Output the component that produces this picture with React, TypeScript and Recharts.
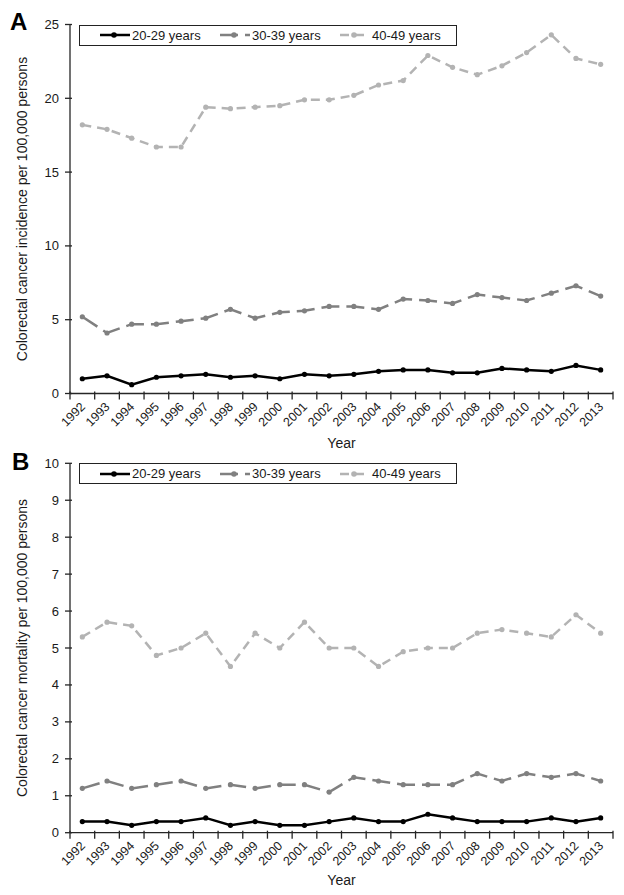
import React from "react"
import { LineChart, Line, XAxis, YAxis, Legend, Label } from "recharts"

// 연도 (x축 카테고리)
const years = [
  1992, 1993, 1994, 1995, 1996, 1997, 1998, 1999, 2000, 2001, 2002,
  2003, 2004, 2005, 2006, 2007, 2008, 2009, 2010, 2011, 2012, 2013,
]

// A: incidence per 100,000
const incidence20to29 = [1.0, 1.2, 0.6, 1.1, 1.2, 1.3, 1.1, 1.2, 1.0, 1.3, 1.2, 1.3, 1.5, 1.6, 1.6, 1.4, 1.4, 1.7, 1.6, 1.5, 1.9, 1.6]
const incidence30to39 = [5.2, 4.1, 4.7, 4.7, 4.9, 5.1, 5.7, 5.1, 5.5, 5.6, 5.9, 5.9, 5.7, 6.4, 6.3, 6.1, 6.7, 6.5, 6.3, 6.8, 7.3, 6.6]
const incidence40to49 = [18.2, 17.9, 17.3, 16.7, 16.7, 19.4, 19.3, 19.4, 19.5, 19.9, 19.9, 20.2, 20.9, 21.2, 22.9, 22.1, 21.6, 22.2, 23.1, 24.3, 22.7, 22.3]

// B: mortality per 100,000
const mortality20to29 = [0.3, 0.3, 0.2, 0.3, 0.3, 0.4, 0.2, 0.3, 0.2, 0.2, 0.3, 0.4, 0.3, 0.3, 0.5, 0.4, 0.3, 0.3, 0.3, 0.4, 0.3, 0.4]
const mortality30to39 = [1.2, 1.4, 1.2, 1.3, 1.4, 1.2, 1.3, 1.2, 1.3, 1.3, 1.1, 1.5, 1.4, 1.3, 1.3, 1.3, 1.6, 1.4, 1.6, 1.5, 1.6, 1.4]
const mortality40to49 = [5.3, 5.7, 5.6, 4.8, 5.0, 5.4, 4.5, 5.4, 5.0, 5.7, 5.0, 5.0, 4.5, 4.9, 5.0, 5.0, 5.4, 5.5, 5.4, 5.3, 5.9, 5.4]

// y축 눈금
const incidenceTicks = [0, 5, 10, 15, 20, 25]
const mortalityTicks = [0, 1, 2, 3, 4, 5, 6, 7, 8, 9, 10]

const seriesNames = ["20-29 years", "30-39 years", "40-49 years"]

const series = [
  { key: "g20", name: seriesNames[0], color: "#000000", dash: undefined },
  { key: "g30", name: seriesNames[1], color: "#808080", dash: "18 7" },
  { key: "g40", name: seriesNames[2], color: "#b3b3b3", dash: "9 6" },
]

const toRows = (a: number[], b: number[], c: number[]) =>
  years.map((year, i) => ({ year, g20: a[i], g30: b[i], g40: c[i] }))

const incidenceData = toRows(incidence20to29, incidence30to39, incidence40to49)
const mortalityData = toRows(mortality20to29, mortality30to39, mortality40to49)

const FONT = "'Liberation Sans', Arial, sans-serif"
const INK = "#1a1a1a"
const AXIS = "#262626"

const XTick = (props: any) => {
  const { x, y, payload } = props
  const half = payload.offset ?? 0
  const last = payload.value === years[years.length - 1]
  const tx = x + 3.5
  const ty = y + 14
  return (
    <g>
      <line x1={x - half} x2={x - half} y1={y - 2} y2={y + 6} stroke={AXIS} strokeWidth={1.3} />
      {last && <line x1={x + half} x2={x + half} y1={y - 2} y2={y + 6} stroke={AXIS} strokeWidth={1.3} />}
      <text x={tx} y={ty} transform={`rotate(-45, ${tx}, ${ty})`} textAnchor="end" fontSize={12.5} fill={INK} fontFamily={FONT}>
        {payload.value}
      </text>
    </g>
  )
}

const YTick = (props: any) => {
  const { x, y, payload } = props
  return (
    <g>
      <line x1={x - 5} x2={x + 2} y1={y} y2={y} stroke={AXIS} strokeWidth={1.3} />
      <text x={x - 11} y={y} dy="0.35em" textAnchor="end" fontSize={13} fill={INK} fontFamily={FONT}>
        {payload.value}
      </text>
    </g>
  )
}

const YTitle = (props: any) => {
  const { viewBox, value } = props
  const cx = viewBox.x + 12
  const cy = viewBox.y + viewBox.height / 2
  return (
    <text x={cx} y={cy} transform={`rotate(-90, ${cx}, ${cy})`} textAnchor="middle" dy="0.35em" fontSize={14} fill={INK} fontFamily={FONT}>
      {value}
    </text>
  )
}

const XTitle = (props: any) => {
  const { viewBox, value, baseline } = props
  return (
    <text x={viewBox.x + viewBox.width / 2} y={viewBox.y + baseline} textAnchor="middle" fontSize={14} fill={INK} fontFamily={FONT}>
      {value}
    </text>
  )
}

// 범례 박스
const LegendBox = () => (
  <div
    style={{
      position: "relative",
      width: 378,
      height: 21,
      border: "1px solid #222",
      background: "#fff",
      boxSizing: "border-box",
      fontFamily: FONT,
      fontSize: 13,
      color: INK,
    }}
  >
    {series.map((s, i) => (
      <div key={s.key} style={{ position: "absolute", left: 20 + i * 120, top: 0, height: 19, display: "flex", alignItems: "center" }}>
        <svg width={30} height={10}>
          <line x1={0} x2={30} y1={5} y2={5} stroke={s.color} strokeWidth={2.5} strokeDasharray={s.dash} />
          <circle cx={14} cy={5} r={2.8} fill={s.color} />
        </svg>
        <span style={{ marginLeft: 2, lineHeight: "19px" }}>{s.name}</span>
      </div>
    ))}
  </div>
)

interface PanelProps {
  letter: string
  letterPos: { left: number; top: number }
  top: number
  height: number
  marginTop: number
  xAxisHeight: number
  titleBaseline: number
  data: any[]
  ticks: number[]
  yTitle: string
}

function Panel({ letter, letterPos, top, height, marginTop, xAxisHeight, titleBaseline, data, ticks, yTitle }: PanelProps) {
  return (
    <div style={{ position: "absolute", left: 0, top, width: 624, height }}>
      <LineChart width={624} height={height} data={data} margin={{ top: marginTop, right: 11, left: 10, bottom: 0 }}>
        <XAxis
          dataKey="year"
          scale="band"
          interval={0}
          height={xAxisHeight}
          tickSize={0}
          tickMargin={0}
          tickLine={false}
          tick={<XTick />}
          axisLine={{ stroke: AXIS, strokeWidth: 1.3 }}
        >
          <Label value="Year" content={<XTitle baseline={titleBaseline} />} />
        </XAxis>
        <YAxis
          type="number"
          width={60}
          domain={[ticks[0], ticks[ticks.length - 1]]}
          ticks={ticks}
          interval={0}
          tickSize={0}
          tickMargin={0}
          tickLine={false}
          tick={<YTick />}
          axisLine={{ stroke: AXIS, strokeWidth: 1.3 }}
        >
          <Label value={yTitle} content={<YTitle />} />
        </YAxis>
        <Legend
          verticalAlign="middle"
          align="center"
          layout="horizontal"
          content={<LegendBox />}
          wrapperStyle={{ top: marginTop, left: 79, width: 378, height: 21 }}
        />
        {series.map((s) => (
          <Line
            key={s.key}
            type="linear"
            dataKey={s.key}
            name={s.name}
            stroke={s.color}
            strokeWidth={2.5}
            strokeDasharray={s.dash}
            dot={{ r: 2.6, fill: s.color, stroke: "none", strokeWidth: 0 }}
            activeDot={false}
            isAnimationActive={false}
          />
        ))}
      </LineChart>
      <span
        style={{
          position: "absolute",
          left: letterPos.left,
          top: letterPos.top,
          fontFamily: FONT,
          fontWeight: 700,
          fontSize: 24,
          lineHeight: "24px",
          color: "#000",
        }}
      >
        {letter}
      </span>
    </div>
  )
}

export default function App() {
  return (
    <div style={{ position: "absolute", left: 0, top: 0, width: 624, height: 895, background: "#fff" }}>
      <Panel
        letter="A"
        letterPos={{ left: 10, top: 10 }}
        top={0}
        height={455}
        marginTop={24.5}
        xAxisHeight={61.5}
        titleBaseline={54.5}
        data={incidenceData}
        ticks={incidenceTicks}
        yTitle="Colorectal cancer incidence per 100,000 persons"
      />
      <Panel
        letter="B"
        letterPos={{ left: 12, top: -5 }}
        top={455}
        height={440}
        marginTop={8.3}
        xAxisHeight={62.3}
        titleBaseline={52.3}
        data={mortalityData}
        ticks={mortalityTicks}
        yTitle="Colorectal cancer mortality per 100,000 persons"
      />
    </div>
  )
}
